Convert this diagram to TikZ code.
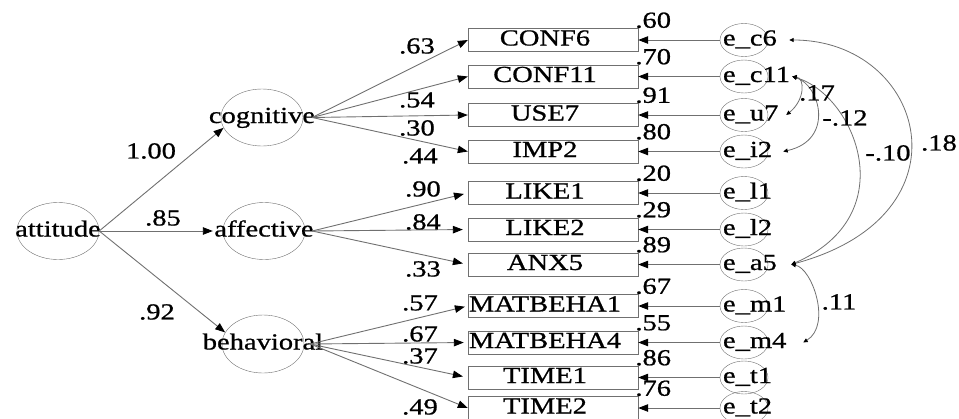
\documentclass[tikz,border=0pt]{standalone}
\usepackage{fontspec}
\setmainfont{Liberation Serif}[FakeStretch=1.24, FakeBold=0.8]
\usepackage{tikz}
\usetikzlibrary{shapes.geometric, arrows.meta, positioning}

\begin{document}
\begin{tikzpicture}[x=1pt, y=-1pt, font=\fontsize{23}{25}\selectfont,
  txt/.style={inner sep=0pt, text height=15pt, text depth=4pt},
  latent/.style={draw=linegray, ellipse, minimum width=82pt, minimum height=57pt, inner sep=0pt},
  latlab/.style={label={[txt]center:#1}},
  err/.style={draw=linegray, ellipse, minimum width=48pt, minimum height=33pt, inner sep=0pt},
  errlab/.style={label={[txt, anchor=west, xshift=3pt]west:#1}},
  obs/.style={draw=linegray, rectangle, minimum width=170pt, minimum height=23pt, inner sep=0pt},
  obslab/.style={label={[txt, xshift=-8pt]center:#1}},
  r2/.style={anchor=south west, inner sep=0pt, xshift=-3pt},
  coef/.style={inner sep=0pt},
  arr/.style={draw=linegray, line width=0.9pt, -{Triangle[length=10pt, width=7.5pt, color=black]}},
  cov/.style={draw=linegray, line width=0.8pt,
    {Triangle[length=4.5pt, width=4pt, color=black]}-{Triangle[length=4.5pt, width=4pt, color=black]}}]
  \definecolor{linegray}{HTML}{707070}

  \useasboundingbox (0,0) rectangle (959,418);

  % latent variables
  \node[latent, latlab=attitude] (attitude) at (58,231) {};
  \node[latent, latlab=cognitive] (cognitive) at (262,117.5) {};
  \node[latent, latlab=affective] (affective) at (264,231) {};
  \node[latent, latlab=behavioral, minimum height=58pt] (behavioral) at (263,344) {};

  % observed items
  \node[obs, obslab=CONF6] (conf6) at (553,40) {};
  \node[obs, obslab=CONF11] (conf11) at (553,76.5) {};
  \node[obs, obslab=USE7] (use7) at (553,115) {};
  \node[obs, obslab=IMP2] (imp2) at (553,151.5) {};
  \node[obs, obslab=LIKE1] (like1) at (553,193) {};
  \node[obs, obslab=LIKE2] (like2) at (553,229.5) {};
  \node[obs, obslab=ANX5] (anx5) at (553,264.5) {};
  \node[obs, obslab=MATBEHA1] (matbeha1) at (553,306) {};
  \node[obs, obslab=MATBEHA4] (matbeha4) at (553,342.5) {};
  \node[obs, obslab=TIME1] (time1) at (553,377.5) {};
  \node[obs, obslab=TIME2] (time2) at (553,408) {};

  % squared multiple correlations
  \node[r2] (rc6) at (conf6.north east) {.60};
  \node[r2] (rc11) at (conf11.north east) {.70};
  \node[r2] (ru7) at (use7.north east) {.91};
  \node[r2] (ri2) at (imp2.north east) {.80};
  \node[r2] (rl1) at (like1.north east) {.20};
  \node[r2] (rl2) at (like2.north east) {.29};
  \node[r2] (ra5) at (anx5.north east) {.89};
  \node[r2] (rm1) at (matbeha1.north east) {.67};
  \node[r2] (rm4) at (matbeha4.north east) {.55};
  \node[r2] (rt1) at (time1.north east) {.86};
  \node[r2] (rt2) at (time2.north east) {.76};

  % error terms
  \node[err, errlab={e\_c6}] (ec6) at (744,40) {};
  \node[err, errlab={e\_c11}] (ec11) at (744,76.5) {};
  \node[err, errlab={e\_u7}] (eu7) at (744,115) {};
  \node[err, errlab={e\_i2}] (ei2) at (744,151.5) {};
  \node[err, errlab={e\_l1}] (el1) at (744,193) {};
  \node[err, errlab={e\_l2}] (el2) at (744,229.5) {};
  \node[err, errlab={e\_a5}] (ea5) at (744,264.5) {};
  \node[err, errlab={e\_m1}] (em1) at (744,306) {};
  \node[err, errlab={e\_m4}] (em4) at (744,342.5) {};
  \node[err, errlab={e\_t1}] (et1) at (744,377.5) {};
  \node[err, errlab={e\_t2}] (et2) at (744,408) {};

  \draw[arr] (ec6.west) -- (conf6.east);
  \draw[arr] (ec11.west) -- (conf11.east);
  \draw[arr] (eu7.west) -- (use7.east);
  \draw[arr] (ei2.west) -- (imp2.east);
  \draw[arr] (el1.west) -- (like1.east);
  \draw[arr] (el2.west) -- (like2.east);
  \draw[arr] (ea5.west) -- (anx5.east);
  \draw[arr] (em1.west) -- (matbeha1.east);
  \draw[arr] (em4.west) -- (matbeha4.east);
  \draw[arr] (et1.west) -- (time1.east);
  \draw[arr] (et2.west) -- (time2.east);

  % second order paths
  \draw[arr] (attitude.east) -- (cognitive.195);
  \draw[arr, shorten >=10pt] (attitude.east) -- (affective.west);
  \draw[arr] (attitude.east) -- (behavioral.163);
  \node[coef] (p1) at (151,151) {1.00};
  \node[coef] (p2) at (163,218) {.85};
  \node[coef] (p3) at (157,312) {.92};

  % loadings
  \draw[arr] ([xshift=9pt]cognitive.east) -- (conf6.west);
  \draw[arr] ([xshift=9pt]cognitive.east) -- (conf11.west);
  \draw[arr] ([xshift=9pt]cognitive.east) -- (use7.west);
  \draw[arr] ([xshift=9pt]cognitive.east) -- (imp2.west);
  \draw[arr, shorten >=4pt] ([xshift=7pt]affective.east) -- (like1.west);
  \draw[arr, shorten >=5pt] ([xshift=7pt]affective.east) -- (like2.west);
  \draw[arr, shorten >=5pt] ([xshift=7pt]affective.east) -- (anx5.west);
  \draw[arr, shorten >=3pt] ([xshift=6pt]behavioral.east) -- (matbeha1.west);
  \draw[arr, shorten >=4pt] ([xshift=6pt]behavioral.east) -- (matbeha4.west);
  \draw[arr, shorten >=5pt] ([xshift=6pt]behavioral.east) -- (time1.west);
  \draw[arr] ([xshift=6pt]behavioral.east) -- (time2.west);
  \node[coef] (lc6) at (417,46) {.63};
  \node[coef] (lc11) at (417,100) {.54};
  \node[coef] (lu7) at (417,128) {.30};
  \node[coef] (li2) at (420,156) {.44};
  \node[coef] (ll1) at (423,189) {.90};
  \node[coef] (ll2) at (423,222) {.84};
  \node[coef] (la5) at (423,269) {.33};
  \node[coef] (lm1) at (420,303) {.57};
  \node[coef] (lm4) at (420,334) {.67};
  \node[coef] (lt1) at (420,356) {.37};
  \node[coef] (lt2) at (420,407) {.49};

  % correlated errors
  \draw[cov] ([xshift=21pt]ec6.east) .. controls (925,40) and (975,215) .. ([xshift=23pt]ea5.east);
  \draw[cov] ([xshift=24pt]ec11.east) .. controls (855,95) and (905,215) .. ([xshift=23pt]ea5.east);
  \draw[cov] ([xshift=24pt]ec11.east) .. controls (820,85) and (835,140) .. ([xshift=15pt]ei2.east);
  \draw[cov] ([xshift=24pt]ec11.east) .. controls (805,78) and (805,100) .. ([xshift=18pt]eu7.east);
  \draw[cov] ([xshift=23pt]ea5.east) .. controls (812,268) and (832,325) .. ([xshift=35pt]em4.east);
  \node[coef] (k1) at (939,143) {.18};
  \node[coef] (k2) at (888,153) {-.10};
  \node[coef] (k3) at (845,118) {-.12};
  \node[coef] (k4) at (817,93) {.17};
  \node[coef] (k5) at (839,302) {.11};
\end{tikzpicture}
\end{document}
